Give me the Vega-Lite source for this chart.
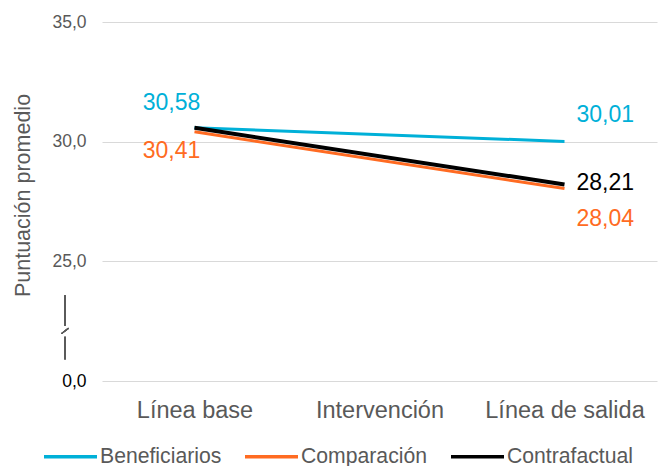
{
  "$schema": "https://vega.github.io/schema/vega-lite/v6.json",
  "width": 555,
  "height": 359,
  "autosize": {"type": "none"},
  "padding": {"left": 102, "top": 22, "right": 1, "bottom": 85},
  "background": "white",
  "config": {
    "font": "Liberation Sans",
    "view": {"stroke": null},
    "locale": {"number": {"decimal": ",", "thousands": ".", "grouping": [3], "currency": ["", " €"]}}
  },
  "data": {
    "values": [
      {"serie": "Beneficiarios", "momento": "Línea base", "valor": 30.58},
      {"serie": "Beneficiarios", "momento": "Línea de salida", "valor": 30.01},
      {"serie": "Comparación", "momento": "Línea base", "valor": 30.41},
      {"serie": "Comparación", "momento": "Línea de salida", "valor": 28.04},
      {"serie": "Contrafactual", "momento": "Línea base", "valor": 30.58},
      {"serie": "Contrafactual", "momento": "Línea de salida", "valor": 28.21}
    ]
  },
  "encoding": {
    "x": {
      "field": "momento", "type": "nominal",
      "scale": {"domain": ["Línea base", "Intervención", "Línea de salida"], "type": "point", "padding": 0.5},
      "axis": {"title": null, "labelAngle": 0, "domain": false, "ticks": false, "labelFontSize": 23.5, "labelColor": "#595959", "labelPadding": 17}
    },
    "y": {
      "field": "valor", "type": "quantitative",
      "scale": {"domain": [20, 35], "nice": false, "zero": false},
      "axis": {
        "title": "Puntuación promedio", "titleFontSize": 21.5, "titleFontWeight": "normal", "titleColor": "#595959", "titlePadding": 17, "titleY": 173,
        "values": [20, 25, 30, 35], "format": ".1f",
        "labelExpr": "datum.value == 20 ? '0,0' : datum.label",
        "labelColor": {"condition": {"test": "datum.value == 20", "value": "#000000"}, "value": "#595959"},
        "labelFontSize": 17.5, "labelPadding": 16,
        "domain": false, "ticks": false, "gridColor": "#d9d9d9", "gridWidth": 1
      }
    }
  },
  "layer": [
    {
      "transform": [{"filter": "datum.serie != 'Contrafactual'"}],
      "mark": {"type": "line", "strokeWidth": 3},
      "encoding": {
        "color": {
          "field": "serie", "type": "nominal",
          "scale": {"domain": ["Beneficiarios", "Comparación", "Contrafactual"], "range": ["#00B0D8", "#FF6B22", "#000000"]},
          "legend": {
            "title": null, "orient": "none", "direction": "horizontal", "legendX": -60, "legendY": 406,
            "symbolType": "stroke", "symbolSize": 2809, "symbolStrokeWidth": 3.5,
            "labelFontSize": 21.2, "labelColor": "#595959", "labelOffset": 1, "columnPadding": 16
          }
        }
      }
    },
    {
      "transform": [{"filter": "datum.serie == 'Contrafactual'"}],
      "mark": {"type": "line", "strokeWidth": 4},
      "encoding": {"color": {"field": "serie", "type": "nominal"}}
    },
    {
      "transform": [{"filter": "datum.momento == 'Línea base' && datum.serie == 'Beneficiarios'"}],
      "mark": {"type": "text", "fontSize": 23, "align": "center", "baseline": "middle", "dx": -23, "dy": -25, "color": "#00B0D8"},
      "encoding": {"text": {"field": "valor", "type": "quantitative", "format": ".2f"}}
    },
    {
      "transform": [{"filter": "datum.momento == 'Línea base' && datum.serie == 'Comparación'"}],
      "mark": {"type": "text", "fontSize": 23, "align": "center", "baseline": "middle", "dx": -23, "dy": 19, "color": "#FF6B22"},
      "encoding": {"text": {"field": "valor", "type": "quantitative", "format": ".2f"}}
    },
    {
      "transform": [{"filter": "datum.momento == 'Línea de salida' && datum.serie == 'Beneficiarios'"}],
      "mark": {"type": "text", "fontSize": 23, "align": "left", "baseline": "middle", "dx": 12, "dy": -26, "color": "#00B0D8"},
      "encoding": {"text": {"field": "valor", "type": "quantitative", "format": ".2f"}}
    },
    {
      "transform": [{"filter": "datum.momento == 'Línea de salida' && datum.serie == 'Contrafactual'"}],
      "mark": {"type": "text", "fontSize": 23, "align": "left", "baseline": "middle", "dx": 12, "dy": -2, "color": "#000000"},
      "encoding": {"text": {"field": "valor", "type": "quantitative", "format": ".2f"}}
    },
    {
      "transform": [{"filter": "datum.momento == 'Línea de salida' && datum.serie == 'Comparación'"}],
      "mark": {"type": "text", "fontSize": 23, "align": "left", "baseline": "middle", "dx": 12, "dy": 30, "color": "#FF6B22"},
      "encoding": {"text": {"field": "valor", "type": "quantitative", "format": ".2f"}}
    },
    {
      "mark": {"type": "rule", "xOffset": -129.5, "color": "#595959", "strokeWidth": 1},
      "encoding": {"x": {"datum": "Línea base"}, "y": {"datum": 23.59}, "y2": {"datum": 22.3}}
    },
    {
      "mark": {"type": "rule", "xOffset": -129.5, "color": "#595959", "strokeWidth": 1},
      "encoding": {"x": {"datum": "Línea base"}, "y": {"datum": 21.85}, "y2": {"datum": 20.9}}
    },
    {
      "mark": {"type": "rule", "xOffset": -133, "x2Offset": -126, "color": "#595959", "strokeWidth": 1.2},
      "encoding": {"x": {"datum": "Línea base"}, "x2": {"datum": "Línea base"}, "y": {"datum": 21.98}, "y2": {"datum": 22.2}}
    }
  ]
}
